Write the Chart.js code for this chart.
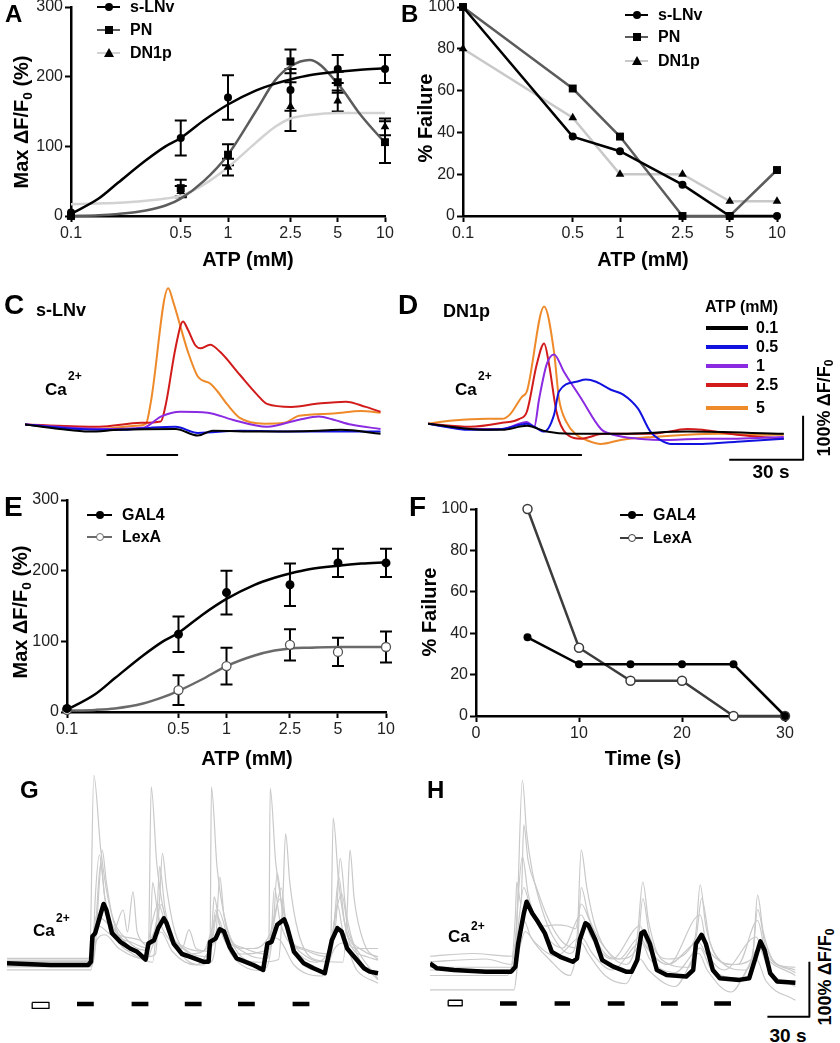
<!DOCTYPE html>
<html>
<head>
<meta charset="utf-8">
<script src="https://cdn.jsdelivr.net/npm/chart.js@4.4.1/dist/chart.umd.min.js"></script>
<style>
  body { margin: 0; background: #fff; }
  #page { position: relative; width: 840px; height: 1043px; overflow: hidden; font-family: "Liberation Sans", Arial, sans-serif; }
  canvas { position: absolute; }
  .t { position: absolute; font-weight: bold; line-height: 1; white-space: nowrap; color: #000; }
  .t sub { font-size: 0.68em; vertical-align: -0.28em; line-height: 0; }
  .sw { position: absolute; box-sizing: border-box; }
</style>
</head>
<body>
<div id="page"></div>
<script>
// ---- data: dose-response (A, B, E) ----
const atpTicks = [0.1, 0.5, 1, 2.5, 5, 10];
const aLnvMean = [5, 112, 170, 181, 211, 211];
const aLnvSem = [0, 25, 32, 30, 20, 20];
const aPnMean = [0, 40, 88, 222, 192, 106];
const aPnSem = [0, 12, 15, 17, 15, 30];
const aDn1pMean = [0, 35, 70, 157, 165, 128];
const aDn1pSem = [0, 8, 12, 35, 15, 12];
// fitted curves
const fitX = [0.1, 0.15, 0.2, 0.3, 0.4, 0.5, 0.7, 1, 1.5, 2, 2.5, 3.3, 5, 7, 10];
const aLnvFit = [3, 25, 48, 80, 100, 112, 137, 160, 180, 190, 196, 202, 207, 210, 212];
const aPnFit = [0, 1, 3, 8, 15, 25, 50, 88, 150, 195, 215, 224, 190, 145, 105];
const aDn1pFit = [17, 18, 19, 22, 25, 29, 45, 70, 105, 128, 140, 145, 148, 148, 148];

const bLnv = [100, 38, 31, 15, 0, 0];
const bPn = [100, 61, 38, 0, 0, 22];
const bDn1p = [80, 47, 20, 20, 7, 7];

const eGal4Mean = [5, 110, 169, 180, 211, 211];
const eGal4Sem = [0, 25, 31, 30, 20, 20];
const eLexAMean = [3, 31, 65, 95, 85, 92];
const eLexASem = [0, 21, 26, 22, 20, 22];
const eGal4Fit = [3, 25, 48, 80, 100, 112, 137, 160, 180, 190, 196, 202, 207, 210, 212];
const eLexAFit = [2, 3, 5, 12, 21, 30, 46, 65, 80, 87, 90, 91, 92, 92, 92];

// ---- data: failure vs time (F) ----
const timeX = [5, 10, 15, 20, 25, 30];
const fGal4 = [38, 25, 25, 25, 25, 0];
const fLexA = [100, 33, 17, 17, 0, 0];

// ---- data: Ca2+ traces C (s-LNv), [time s, dF/F0 %] ----
const cBlack = [[0,5],[14,-5],[26,-11],[38,-7],[61,-5],[70,-20],[76,-9],[95,-11],[119,-9],[128,-7],[144,-16]];
const cBlue = [[0,5],[22,-5],[38,-7],[51,-2],[61,0],[70,-14],[87,-9],[111,-11],[144,-11]];
const cPurple = [[0,5],[30,-5],[48,-2],[55,23],[63,34],[74,32],[84,16],[98,0],[111,16],[119,23],[125,16],[132,5],[144,-5]];
const cRed = [[0,5],[30,0],[47,9],[55,12],[57,50],[61,180],[64,239],[66,220],[69,185],[71,178],[75,186],[79,170],[87,118],[94,73],[98,52],[108,45],[118,52],[130,57],[138,45],[144,34]];
const cOrange = [[0,5],[30,-5],[45,2],[49,7],[51,57],[58,314],[60,284],[66,170],[70,114],[75,98],[78,80],[82,50],[87,20],[97,7],[105,9],[111,25],[125,30],[136,36],[144,32]];
const cStim = [[33, 62]];

// ---- data: Ca2+ traces D (DN1p) ----
const dBlack = [[0,7],[17,-5],[30,-7],[40,2],[48,-11],[58,-16],[78,-16],[105,-11],[144,-16]];
const dBlue = [[0,7],[17,-7],[30,-5],[40,7],[43,0],[47,-11],[51,27],[53,80],[60,102],[64,107],[68,102],[74,84],[79,73],[85,41],[90,-11],[94,-30],[98,-39],[111,-39],[125,-34],[144,-27]];
const dPurple = [[0,7],[17,-5],[30,-5],[40,11],[43,0],[45,64],[48,141],[51,164],[55,125],[62,64],[70,-5],[75,-18],[85,-27],[98,-30],[111,-27],[125,-27],[144,-23]];
const dRed = [[0,7],[17,0],[30,9],[37,18],[40,34],[44,141],[47,189],[49,141],[52,34],[56,-16],[62,-27],[71,-16],[91,-16],[105,-5],[111,-7],[125,-18],[144,-27]];
const dOrange = [[0,7],[10,14],[24,18],[30,18],[33,27],[38,68],[40,80],[47,273],[51,170],[53,64],[56,11],[60,-18],[64,-30],[70,-39],[78,-30],[91,-23],[105,-18],[118,-16],[132,-18],[144,-18]];
const dStim = [[32.4, 62.3]];
const atpLegend = ['0.1', '0.5', '1', '2.5', '5'];

// ---- data: repeated stimulation G (GAL4) and H (LexA) ----
const gMean = [[0,3],[31,0],[58,0],[60,6],[61,52],[63,58],[67,94],[69,111],[71,100],[75,58],[81,42],[88,30],[93,24],[99,10],[101,39],[105,45],[108,67],[112,85],[114,76],[119,39],[125,20],[132,14],[140,6],[144,6],[145,42],[149,48],[152,65],[155,61],[159,33],[164,12],[176,0],[183,-9],[186,39],[189,42],[193,73],[198,83],[200,70],[205,24],[212,3],[219,-6],[227,-15],[232,45],[236,67],[239,61],[243,30],[246,21],[250,9],[255,-6],[259,-12],[265,-15]];
const gCells = [
  [[0,6],[59,6],[62,345],[67,209],[74,100],[86,45],[98,27],[101,30],[103,324],[107,185],[114,76],[128,27],[143,15],[145,20],[146,324],[150,179],[157,70],[171,21],[186,12],[187,20],[188,321],[192,185],[200,70],[214,15],[229,6],[231,12],[233,267],[237,148],[245,39],[257,15],[265,9]],
  [[0,-3],[60,-3],[63,30],[66,150],[68,209],[71,150],[76,80],[85,40],[100,15],[106,20],[109,120],[111,203],[114,140],[120,60],[130,20],[145,5],[149,40],[152,160],[155,90],[163,30],[180,5],[194,10],[197,120],[199,239],[202,150],[208,60],[220,10],[240,5],[243,100],[245,209],[248,120],[255,40],[265,10]],
  [[0,-9],[60,-9],[63,60],[67,185],[70,120],[78,50],[90,20],[104,5],[107,80],[109,179],[113,100],[122,30],[140,0],[146,50],[148,124],[152,70],[162,20],[185,-5],[190,60],[193,167],[197,90],[206,20],[225,-10],[235,80],[238,194],[242,100],[250,20],[265,-27]],
  [[0,9],[60,9],[62,50],[66,70],[75,55],[83,100],[86,60],[90,133],[93,60],[100,40],[105,60],[110,110],[116,60],[125,30],[130,64],[135,30],[145,25],[150,90],[156,50],[170,30],[176,30],[190,70],[196,140],[200,60],[212,30],[230,20],[236,110],[240,60],[250,30],[265,30]],
  [[0,-3],[60,-3],[64,45],[70,55],[80,30],[100,10],[104,35],[110,60],[118,25],[135,0],[148,40],[153,60],[160,20],[180,-10],[189,50],[195,45],[205,0],[225,-20],[234,30],[240,40],[250,-10],[265,-33]],
  [[0,12],[58,12],[60,25],[64,90],[70,80],[80,55],[95,45],[100,35],[103,70],[108,110],[115,60],[125,35],[140,25],[147,70],[151,100],[158,50],[170,30],[185,20],[190,80],[195,120],[202,50],[215,25],[230,15],[234,80],[239,130],[244,60],[255,25],[265,15]],
  [[0,0],[61,0],[63,120],[66,200],[70,120],[78,60],[90,40],[102,30],[104,150],[108,90],[118,40],[130,20],[146,40],[149,100],[153,60],[165,20],[188,30],[191,140],[195,80],[205,30],[220,5],[233,60],[237,160],[241,80],[252,20],[265,-25]]
];
const gControl = [18, 30];
const gStim = [[50,62],[89,101],[127,139],[165,177],[204,216]];

const hMean = [[0,12],[5,3],[17,0],[40,-3],[58,-3],[61,6],[63,48],[67,103],[69,124],[73,103],[77,88],[82,67],[87,33],[93,24],[102,15],[105,21],[107,55],[111,85],[113,82],[118,55],[123,18],[131,6],[140,-3],[144,-3],[148,18],[151,67],[153,70],[157,48],[162,0],[169,-9],[183,-12],[188,0],[190,48],[194,64],[197,48],[202,0],[207,-15],[221,-18],[228,-15],[232,18],[236,52],[239,36],[243,-6],[248,-21],[261,-23]];
const hCells = [
  [[0,5],[60,5],[62,80],[66,345],[69,250],[73,180],[80,110],[88,60],[100,30],[105,60],[108,218],[112,150],[118,80],[128,30],[140,10],[148,60],[152,160],[156,90],[165,20],[185,5],[190,70],[193,155],[197,80],[208,15],[225,0],[231,40],[234,136],[238,70],[248,10],[261,5]],
  [[0,15],[40,20],[58,10],[61,100],[62,160],[65,120],[67,264],[70,200],[76,150],[85,90],[95,50],[105,40],[108,150],[113,100],[122,40],[135,20],[148,40],[152,130],[157,60],[170,20],[190,60],[194,130],[200,50],[215,10],[230,20],[234,110],[240,40],[261,-5]],
  [[0,-10],[55,-10],[60,30],[66,206],[70,140],[76,90],[82,80],[90,82],[98,80],[104,75],[108,120],[114,90],[122,50],[135,20],[150,60],[155,40],[170,10],[192,50],[197,30],[210,0],[233,60],[238,30],[261,-10]],
  [[0,-36],[60,-36],[63,20],[67,90],[72,60],[85,20],[100,-10],[108,50],[113,30],[125,-10],[140,-25],[150,20],[156,0],[175,-30],[192,30],[198,0],[215,-40],[233,20],[240,-20],[261,-55]],
  [[0,25],[30,30],[58,25],[62,60],[67,150],[72,110],[80,70],[95,40],[108,100],[115,60],[130,20],[150,80],[156,40],[170,10],[193,100],[198,40],[220,10],[234,90],[240,30],[261,0]],
  [[0,0],[60,0],[64,40],[68,70],[75,50],[90,25],[108,60],[116,30],[130,0],[151,50],[157,20],[175,-5],[193,40],[200,5],[222,-15],[235,40],[242,0],[261,-30]]
];
const hControl = [13, 23];
const hStim = [[50,62],[89,100],[127,139],[165,177],[203,215]];

// ---------------------------------------------------------------
const FONT = '"Liberation Sans", Arial, sans-serif';
Chart.defaults.font.family = FONT;
const page = document.getElementById('page');
const traceColors = ['#000000', '#1212e0', '#8a2be2', '#d21c1c', '#ee8a2a'];

function addCanvas(left, top, w, h) {
  const c = document.createElement('canvas');
  c.width = w; c.height = h;
  c.style.left = left + 'px'; c.style.top = top + 'px';
  c.style.width = w + 'px'; c.style.height = h + 'px';
  page.appendChild(c);
  return c;
}

function text(html, x, base, size, align) {
  const d = document.createElement('div');
  d.className = 't';
  d.innerHTML = html;
  d.style.fontSize = size + 'px';
  d.style.left = x + 'px';
  d.style.top = (base - 0.847 * size) + 'px';
  if (align === 'center') d.style.transform = 'translateX(-50%)';
  page.appendChild(d);
}

function vtext(html, cx, cy, size) {
  const d = document.createElement('div');
  d.className = 't';
  d.innerHTML = html;
  d.style.fontSize = size + 'px';
  d.style.left = cx + 'px';
  d.style.top = cy + 'px';
  d.style.transform = 'translate(-50%,-50%) rotate(-90deg)';
  page.appendChild(d);
}

function box(x, y, w, h, css) {
  const d = document.createElement('div');
  d.className = 'sw';
  d.style.left = x + 'px'; d.style.top = y + 'px';
  d.style.width = w + 'px'; d.style.height = h + 'px';
  Object.assign(d.style, css || {});
  page.appendChild(d);
}

// legend line with a marker in the middle
function legendItem(x1, x2, yc, color, marker, label, size) {
  box(x1, yc - 1.25, x2 - x1, 2.5, { background: color });
  const mx = (x1 + x2) / 2;
  if (marker === 'circle') box(mx - 4, yc - 4, 8, 8, { background: '#000', borderRadius: '50%' });
  if (marker === 'rect') box(mx - 4, yc - 4, 8, 8, { background: '#000' });
  if (marker === 'triangle') box(mx - 5, yc - 5, 0, 0, { borderLeft: '5px solid transparent', borderRight: '5px solid transparent', borderBottom: '9px solid #000' });
  if (marker === 'open') box(mx - 4, yc - 4, 8, 8, { background: '#fff', border: '1.5px solid ' + color, borderRadius: '50%' });
  text(label, x2 + 10, yc + 0.36 * size, size);
}

const pts = arr => arr.map(([x, y]) => ({ x, y }));
const zipXY = (xs, ys) => xs.map((x, i) => ({ x, y: ys[i] }));
const segs = (intervals, level) => intervals.flatMap(([a, b]) => [{ x: a, y: level }, { x: b, y: level }, { x: b, y: null }]);

// error bars drawn through the chart's own scales
const errorBars = {
  id: 'errorBars',
  beforeDatasetsDraw(chart) {
    const ctx = chart.ctx;
    const ys = chart.scales.y;
    chart.data.datasets.forEach((ds, i) => {
      if (!ds.errors) return;
      const meta = chart.getDatasetMeta(i);
      ctx.save();
      ctx.strokeStyle = '#000';
      ctx.lineWidth = 2;
      meta.data.forEach((p, j) => {
        const e = ds.errors[j];
        if (!e) return;
        const v = ds.data[j].y;
        const top = ys.getPixelForValue(v + e);
        const bot = ys.getPixelForValue(v - e);
        ctx.beginPath();
        ctx.moveTo(p.x, top); ctx.lineTo(p.x, bot);
        ctx.moveTo(p.x - 6, top); ctx.lineTo(p.x + 6, top);
        ctx.moveTo(p.x - 6, bot); ctx.lineTo(p.x + 6, bot);
        ctx.stroke();
      });
      ctx.restore();
    });
  }
};

function axisScale(extra, fit) {
  const s = {
    border: { display: true, color: '#000', width: 2.5 },
    grid: { drawOnChartArea: false, drawTicks: true, tickLength: 6, tickWidth: 2, tickColor: '#000' },
    afterFit: fit
  };
  Object.assign(s, extra);
  s.ticks = Object.assign({ font: { family: FONT, size: 16 }, color: '#222', padding: 2, autoSkip: false, maxRotation: 0 }, extra.ticks || {});
  return s;
}

function axisChart(canvas, datasets, xScale, yScale, pad, yWidth, xHeight) {
  return new Chart(canvas, {
    type: 'line',
    data: { datasets },
    options: {
      animation: false, responsive: false, devicePixelRatio: 1,
      layout: { padding: { top: pad.top, right: pad.right, left: 0, bottom: 0 } },
      plugins: { legend: { display: false }, tooltip: { enabled: false } },
      scales: {
        x: axisScale(xScale, s => { s.height = xHeight; }),
        y: axisScale(yScale, s => { s.width = yWidth; })
      }
    },
    plugins: [errorBars]
  });
}

const logAtp = {
  type: 'logarithmic', min: 0.1, max: 10,
  afterBuildTicks: s => { s.ticks = atpTicks.map(v => ({ value: v })); },
  ticks: { callback: v => String(v) }
};

function fitSet(ys, color) {
  return { data: zipXY(fitX, ys), borderColor: color, borderWidth: 2.5, pointRadius: 0, cubicInterpolationMode: 'monotone', clip: false };
}
function pointSet(ys, errs, style, radius, fill, border) {
  return {
    data: zipXY(atpTicks, ys), errors: errs, showLine: false, pointStyle: style, pointRadius: radius,
    pointBackgroundColor: fill || '#000', pointBorderColor: border || '#000', pointBorderWidth: border ? 1.3 : 0, clip: false
  };
}
function lineSet(xs, ys, color, style, radius, fill) {
  return {
    data: zipXY(xs, ys), borderColor: color, borderWidth: 2.5, tension: 0, pointStyle: style, pointRadius: radius,
    pointBackgroundColor: fill || '#000', pointBorderColor: fill ? color : '#000', pointBorderWidth: fill ? 1.5 : 0, clip: false
  };
}

// ---- A ----
axisChart(addCanvas(0, -10, 410, 260), [
  pointSet(aLnvMean, aLnvSem, 'circle', 4),
  pointSet(aPnMean, aPnSem, 'rect', 5.6),
  pointSet(aDn1pMean, aDn1pSem, 'triangle', 5),
  fitSet(aLnvFit, '#000'),
  fitSet(aPnFit, '#5c5c5c'),
  fitSet(aDn1pFit, '#d2d2d2')
], logAtp, { min: 0, max: 300, ticks: { stepSize: 100 } }, { top: 17, right: 25 }, 71, 34);

// ---- B ----
axisChart(addCanvas(420, -10, 410, 260), [
  lineSet(atpTicks, bLnv, '#000', 'circle', 4),
  lineSet(atpTicks, bPn, '#5c5c5c', 'rect', 5.6),
  lineSet(atpTicks, bDn1p, '#c8c8c8', 'triangle', 5)
], logAtp, { min: 0, max: 100, ticks: { stepSize: 20 } }, { top: 17, right: 53 }, 43, 34);

// ---- E ----
axisChart(addCanvas(0, 485, 410, 265), [
  pointSet(eGal4Mean, eGal4Sem, 'circle', 4.5),
  pointSet(eLexAMean, eLexASem, 'circle', 4.5, '#fff', '#555'),
  fitSet(eGal4Fit, '#000'),
  fitSet(eLexAFit, '#6a6a6a')
], logAtp, { min: 0, max: 300, ticks: { stepSize: 100 } }, { top: 15, right: 24 }, 67, 38);

// ---- F ----
axisChart(addCanvas(420, 485, 410, 265), [
  lineSet(timeX, fGal4, '#000', 'circle', 4),
  lineSet(timeX, fLexA, '#3c3c3c', 'circle', 4.5, '#fff')
], { type: 'linear', min: 0, max: 30, ticks: { stepSize: 10 } }, { min: 0, max: 100, ticks: { stepSize: 20 } }, { top: 24, right: 45 }, 56, 34);

// ---- trace panels ----
function traceChart(canvas, xMax, yMin, yMax, datasets) {
  return new Chart(canvas, {
    type: 'line',
    data: { datasets },
    options: {
      animation: false, responsive: false, devicePixelRatio: 1,
      layout: { padding: 0 },
      plugins: { legend: { display: false }, tooltip: { enabled: false } },
      elements: { point: { radius: 0 }, line: { borderJoinStyle: 'round' } },
      scales: {
        x: { type: 'linear', display: false, min: 0, max: xMax },
        y: { display: false, min: yMin, max: yMax }
      }
    }
  });
}
// smooth traces without overshoot
const trace = (arr, color, width) => ({ data: pts(arr), borderColor: color, borderWidth: width, cubicInterpolationMode: 'monotone', clip: false });
const jagged = (arr, color, width) => ({ data: pts(arr), borderColor: color, borderWidth: width, tension: 0, clip: false });
const plain = (data, width) => ({ data, borderColor: '#000', borderWidth: width, tension: 0, spanGaps: false, clip: false, borderCapStyle: 'butt' });

// C
traceChart(addCanvas(25, 280, 358, 182), 145, -80, 333, [
  trace(cBlack, traceColors[0], 2),
  trace(cBlue, traceColors[1], 2),
  trace(cPurple, traceColors[2], 2),
  trace(cRed, traceColors[3], 2),
  trace(cOrange, traceColors[4], 2),
  plain(segs(cStim, -64), 2)
]);

// D (with scale bar)
traceChart(addCanvas(428, 280, 383, 182), 155, -80, 333, [
  trace(dBlack, traceColors[0], 2),
  trace(dBlue, traceColors[1], 2),
  trace(dPurple, traceColors[2], 2),
  trace(dRed, traceColors[3], 2),
  trace(dOrange, traceColors[4], 2),
  plain(segs(dStim, -64), 2),
  plain([{ x: 121.9, y: -75 }, { x: 151.8, y: -75 }, { x: 151.8, y: 25 }], 2)
]);

// G
const controlBox = (c, lo, hi) => [{ x: c[0], y: hi }, { x: c[1], y: hi }, { x: c[1], y: lo }, { x: c[0], y: lo }, { x: c[0], y: hi }];
traceChart(addCanvas(7, 767, 378, 253), 270, -100, 360, [
  jagged(gMean, '#000', 4.5),
  ...gCells.map(c => trace(c, '#c9c9c9', 1.2)),
  plain(segs(gStim, -71), 4.5),
  plain(controlBox(gControl, -79, -68), 1.3)
]);

// H (with scale bar)
traceChart(addCanvas(430, 772, 385, 253), 275, -100, 360, [
  jagged(hMean, '#000', 4.5),
  ...hCells.map(c => trace(c, '#c9c9c9', 1.2)),
  plain(segs(hStim, -61), 4.5),
  plain(controlBox(hControl, -65, -55), 1.3),
  plain([{ x: 241, y: -85 }, { x: 271, y: -85 }, { x: 271, y: 15 }], 2)
]);

// ---- text ----
text('A', 5, 22, 24);
text('B', 401, 22, 24);
text('C', 4, 315, 28);
text('D', 398, 315, 28);
text('E', 4, 517, 28);
text('F', 409, 517, 28);
text('G', 20, 798, 24);
text('H', 427, 798, 24);

vtext('Max &Delta;F/F<sub>0</sub> (%)', 21, 122, 20);
vtext('% Failure', 425, 118, 20);
text('ATP (mM)', 248, 266, 20, 'center');
text('ATP (mM)', 643, 266, 20, 'center');
vtext('Max &Delta;F/F<sub>0</sub> (%)', 20, 612, 20);
vtext('% Failure', 429, 612, 20);
text('ATP (mM)', 247, 765, 20, 'center');
text('Time (s)', 643, 765, 20, 'center');

legendItem(97, 120, 7, '#000', 'circle', 's-LNv', 16);
legendItem(97, 120, 30, '#5c5c5c', 'rect', 'PN', 16);
legendItem(97, 120, 53, '#d2d2d2', 'triangle', 'DN1p', 16);
legendItem(625, 648, 15, '#000', 'circle', 's-LNv', 16);
legendItem(625, 648, 37, '#5c5c5c', 'rect', 'PN', 16);
legendItem(625, 648, 61, '#c8c8c8', 'triangle', 'DN1p', 16);
legendItem(87, 112, 515, '#000', 'circle', 'GAL4', 16);
legendItem(87, 112, 537, '#6a6a6a', 'open', 'LexA', 16);
legendItem(620, 643, 515, '#000', 'circle', 'GAL4', 16);
legendItem(620, 643, 538, '#3c3c3c', 'open', 'LexA', 16);

text('s-LNv', 36, 316, 18);
text('DN1p', 443, 317, 18);
text('Ca', 45, 395, 17); text('2+', 68, 380, 12);
text('Ca', 455, 395, 17); text('2+', 478, 380, 12);
text('Ca', 33, 936, 17); text('2+', 56, 922, 12);
text('Ca', 448, 942, 17); text('2+', 471, 930, 12);

text('ATP (mM)', 705, 313, 16);
const legendY = [328, 347, 366, 385, 408];
atpLegend.forEach((lab, i) => {
  box(706, legendY[i] - 2, 42, 4, { background: traceColors[i] });
  text(lab, 756, legendY[i] + 6, 16);
});

text('30 s', 771, 478, 19, 'center');
vtext('100% &Delta;F/F<sub>0</sub>', 824, 408, 18);
text('30 s', 788, 1042, 19, 'center');
vtext('100% &Delta;F/F<sub>0</sub>', 825, 977, 18);
</script>
</body>
</html>
